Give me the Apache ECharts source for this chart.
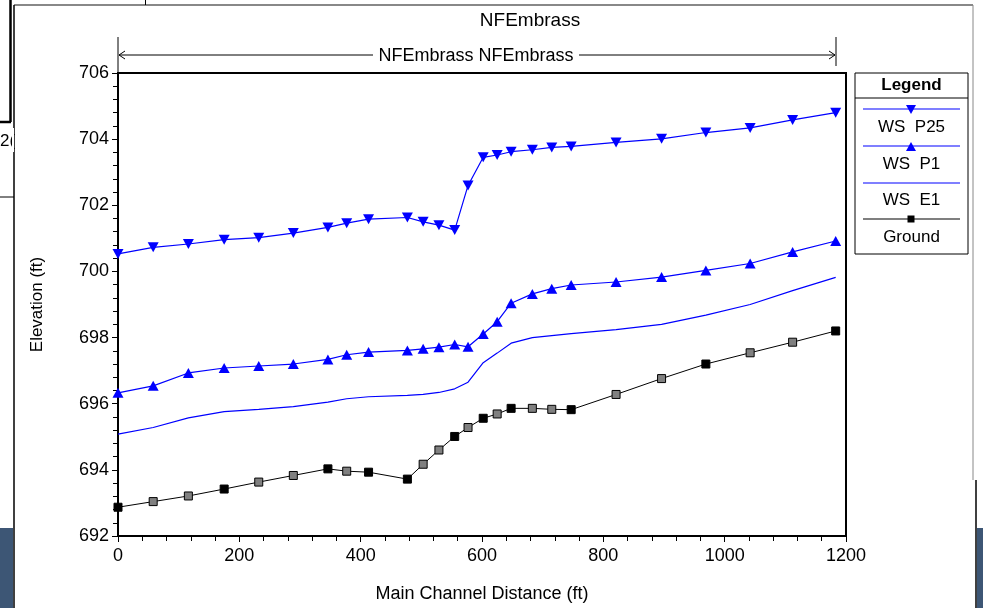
<!DOCTYPE html>
<html>
<head>
<meta charset="utf-8">
<script src="https://cdn.jsdelivr.net/npm/echarts@6/dist/echarts.min.js"></script>
<style>
html, body { margin: 0; padding: 0; background: #fff; }
#main { width: 983px; height: 608px; }
</style>
</head>
<body>
<div id="main"></div>
<script>
// stations along main channel (ft)
var stations = [0, 58, 116, 175, 232, 289, 346, 377, 413, 477, 503, 529, 555, 577, 602, 625, 648, 683, 715, 747, 821, 896, 969, 1042, 1112, 1183];

var wsP25 = [700.53, 700.73, 700.83, 700.96, 701.02, 701.16, 701.33, 701.46, 701.58, 701.63, 701.50, 701.40, 701.25, 702.60, 703.45, 703.52, 703.62, 703.68, 703.75, 703.78, 703.90, 704.01, 704.20, 704.34, 704.58, 704.80];
var wsP1 = [696.33, 696.54, 696.93, 697.08, 697.14, 697.20, 697.34, 697.48, 697.56, 697.61, 697.66, 697.71, 697.79, 697.72, 698.11, 698.48, 699.04, 699.32, 699.48, 699.59, 699.68, 699.83, 700.03, 700.24, 700.59, 700.92];
var wsE1 = [695.08, 695.28, 695.57, 695.76, 695.83, 695.91, 696.05, 696.15, 696.21, 696.25, 696.28, 696.34, 696.45, 696.65, 697.24, 697.53, 697.83, 698.00, 698.06, 698.12, 698.24, 698.40, 698.68, 699.00, 699.42, 699.82];
var ground = [692.87, 693.04, 693.21, 693.42, 693.63, 693.83, 694.03, 693.96, 693.93, 693.72, 694.17, 694.60, 695.01, 695.28, 695.56, 695.69, 695.86, 695.86, 695.83, 695.82, 696.28, 696.76, 697.20, 697.54, 697.86, 698.20];
// 1 = interpolated cross section (grey marker)
var groundInterp = [0, 1, 1, 0, 1, 1, 0, 1, 0, 0, 1, 1, 0, 1, 0, 1, 0, 1, 1, 0, 1, 1, 0, 1, 1, 0];

var seriesNames = ['WS  P25', 'WS  P1', 'WS  E1', 'Ground'];

function pairs(ys) {
	var out = [];
	for (var i = 0; i < stations.length; i++) out.push([stations[i], ys[i]]);
	return out;
}

var FONT = '"Liberation Sans", Arial, sans-serif';
var myChart = echarts.init(document.getElementById('main'));

// legend box drawn by hand (HEC-RAS style)
var lgX = 855, lgY = 73, lgW = 113, lgH = 181;
var lgLines = [109, 146, 183, 219];
var lgText = [127, 164, 200, 237];
var legendEls = [
	{ type: 'rect', shape: { x: lgX, y: lgY, width: lgW, height: lgH }, style: { fill: '#fff', stroke: '#000', lineWidth: 1 } },
	{ type: 'line', shape: { x1: lgX, y1: 98, x2: lgX + lgW, y2: 98 }, style: { stroke: '#000', lineWidth: 1 } },
	{ type: 'text', x: lgX + lgW / 2, y: 85, style: { text: 'Legend', font: 'bold 17px ' + FONT, fill: '#000', align: 'center', verticalAlign: 'middle' } }
];
var lgColors = ['#0000ff', '#0000ff', '#0000ff', '#000'];
for (var k = 0; k < 4; k++) {
	legendEls.push({ type: 'line', shape: { x1: 863, y1: lgLines[k], x2: 960, y2: lgLines[k] }, style: { stroke: lgColors[k], lineWidth: 1.2 } });
	legendEls.push({ type: 'text', x: lgX + lgW / 2, y: lgText[k], style: { text: seriesNames[k], font: '17px ' + FONT, fill: '#000', align: 'center', verticalAlign: 'middle' } });
}
legendEls.push({ type: 'polygon', shape: { points: [[906, 105], [916, 105], [911, 114]] }, style: { fill: '#0000ff' } });
legendEls.push({ type: 'polygon', shape: { points: [[906, 151], [916, 151], [911, 142]] }, style: { fill: '#0000ff' } });
legendEls.push({ type: 'rect', shape: { x: 907.5, y: 215.5, width: 7, height: 7 }, style: { fill: '#000' } });

// leftover bits of the surrounding window
var frameEls = [
	{ type: 'line', shape: { x1: 14, y1: 5, x2: 973, y2: 5 }, style: { stroke: '#888', lineWidth: 2 } },
	{ type: 'line', shape: { x1: 14, y1: 5, x2: 14, y2: 608 }, style: { stroke: '#000', lineWidth: 1.5 } },
	{ type: 'line', shape: { x1: 973, y1: 5, x2: 973, y2: 480 }, style: { stroke: '#888', lineWidth: 1 } },
	{ type: 'line', shape: { x1: 976, y1: 480, x2: 976, y2: 608 }, style: { stroke: '#000', lineWidth: 1.5 } },
	{ type: 'rect', shape: { x: 977, y: 528, width: 6, height: 80 }, style: { fill: '#3d5675' } },
	{ type: 'rect', shape: { x: 0, y: 528, width: 13, height: 80 }, style: { fill: '#3d5675' } },
	{ type: 'line', shape: { x1: 10.5, y1: 0, x2: 10.5, y2: 122 }, style: { stroke: '#000', lineWidth: 2.5 } },
	{ type: 'line', shape: { x1: 0, y1: 122, x2: 11, y2: 122 }, style: { stroke: '#000', lineWidth: 2.5 } },
	{ type: 'line', shape: { x1: 0, y1: 197, x2: 14, y2: 197 }, style: { stroke: '#000', lineWidth: 1 } },
	{ type: 'line', shape: { x1: 145.5, y1: 0, x2: 145.5, y2: 5 }, style: { stroke: '#000', lineWidth: 1 } },
	{ type: 'text', x: 0, y: 141, style: { text: '2(', font: '17px ' + FONT, fill: '#000', verticalAlign: 'middle' } },
	{ type: 'rect', shape: { x: 12, y: 128, width: 2, height: 24 }, style: { fill: '#fff' } }
];

// reach annotation arrow across the top
var arrowEls = [
	{ type: 'line', shape: { x1: 118, y1: 37, x2: 118, y2: 73 }, style: { stroke: '#000', lineWidth: 1 } },
	{ type: 'line', shape: { x1: 836, y1: 37, x2: 836, y2: 66 }, style: { stroke: '#000', lineWidth: 1 } },
	{ type: 'line', shape: { x1: 119, y1: 55, x2: 373, y2: 55 }, style: { stroke: '#000', lineWidth: 1 } },
	{ type: 'line', shape: { x1: 579, y1: 55, x2: 835, y2: 55 }, style: { stroke: '#000', lineWidth: 1 } },
	{ type: 'polyline', shape: { points: [[125, 51], [119, 55], [125, 59]] }, style: { stroke: '#000', lineWidth: 1, fill: null } },
	{ type: 'polyline', shape: { points: [[829, 51], [835, 55], [829, 59]] }, style: { stroke: '#000', lineWidth: 1, fill: null } },
	{ type: 'text', x: 476, y: 56, style: { text: 'NFEmbrass NFEmbrass', font: '18px ' + FONT, fill: '#000', align: 'center', verticalAlign: 'middle' } },
	{ type: 'text', x: 530, y: 21, style: { text: 'NFEmbrass', font: '19px ' + FONT, fill: '#000', align: 'center', verticalAlign: 'middle' } }
];

option = {
	backgroundColor: '#fff',
	animation: false,
	grid: {
		left: 118, top: 73, width: 728, height: 465,
		show: true, borderColor: '#000', borderWidth: 2, backgroundColor: 'transparent'
	},
	xAxis: {
		type: 'value',
		min: 0, max: 1200, interval: 200,
		name: 'Main Channel Distance (ft)',
		nameLocation: 'middle',
		nameGap: 49,
		nameTextStyle: { fontFamily: FONT, fontSize: 18, color: '#000' },
		axisLine: { show: true, onZero: false, lineStyle: { color: '#000', width: 2 } },
		axisTick: { show: true, length: 6, lineStyle: { color: '#000' } },
		minorTick: { show: true, splitNumber: 5, length: 5, lineStyle: { color: '#000' } },
		axisLabel: { fontFamily: FONT, fontSize: 18, color: '#000', margin: 11, formatter: function (v) { return String(v); } },
		splitLine: { show: false }
	},
	yAxis: {
		type: 'value',
		min: 692, max: 706, interval: 2,
		name: 'Elevation (ft)',
		nameLocation: 'middle',
		nameGap: 72,
		nameTextStyle: { fontFamily: FONT, fontSize: 17, color: '#000' },
		axisLine: { show: true, onZero: false, lineStyle: { color: '#000', width: 2 } },
		axisTick: { show: true, length: 6, lineStyle: { color: '#000' } },
		minorTick: { show: true, splitNumber: 5, length: 5, lineStyle: { color: '#000' } },
		axisLabel: { fontFamily: FONT, fontSize: 18, color: '#000', margin: 9, formatter: function (v) { return String(v); } },
		splitLine: { show: false }
	},
	series: [
		{
			name: seriesNames[0],
			type: 'line',
			data: pairs(wsP25),
			symbol: 'triangle',
			symbolRotate: 180,
			symbolSize: [11, 10],
			lineStyle: { color: '#0000ff', width: 1.2 },
			itemStyle: { color: '#0000ff' }
		},
		{
			name: seriesNames[1],
			type: 'line',
			data: pairs(wsP1),
			symbol: 'triangle',
			symbolSize: [11, 10],
			lineStyle: { color: '#0000ff', width: 1.2 },
			itemStyle: { color: '#0000ff' }
		},
		{
			name: seriesNames[2],
			type: 'line',
			data: pairs(wsE1),
			showSymbol: false,
			symbol: 'none',
			lineStyle: { color: '#0000ff', width: 1.2 }
		},
		{
			name: seriesNames[3],
			type: 'line',
			data: pairs(ground),
			symbol: 'rect',
			symbolSize: 8,
			lineStyle: { color: '#000', width: 1 },
			itemStyle: {
				color: function (p) { return groundInterp[p.dataIndex] ? '#808080' : '#000'; },
				borderColor: '#000',
				borderWidth: 1
			}
		}
	],
	graphic: frameEls.concat(arrowEls, legendEls)
};

myChart.setOption(option);
</script>
</body>
</html>
